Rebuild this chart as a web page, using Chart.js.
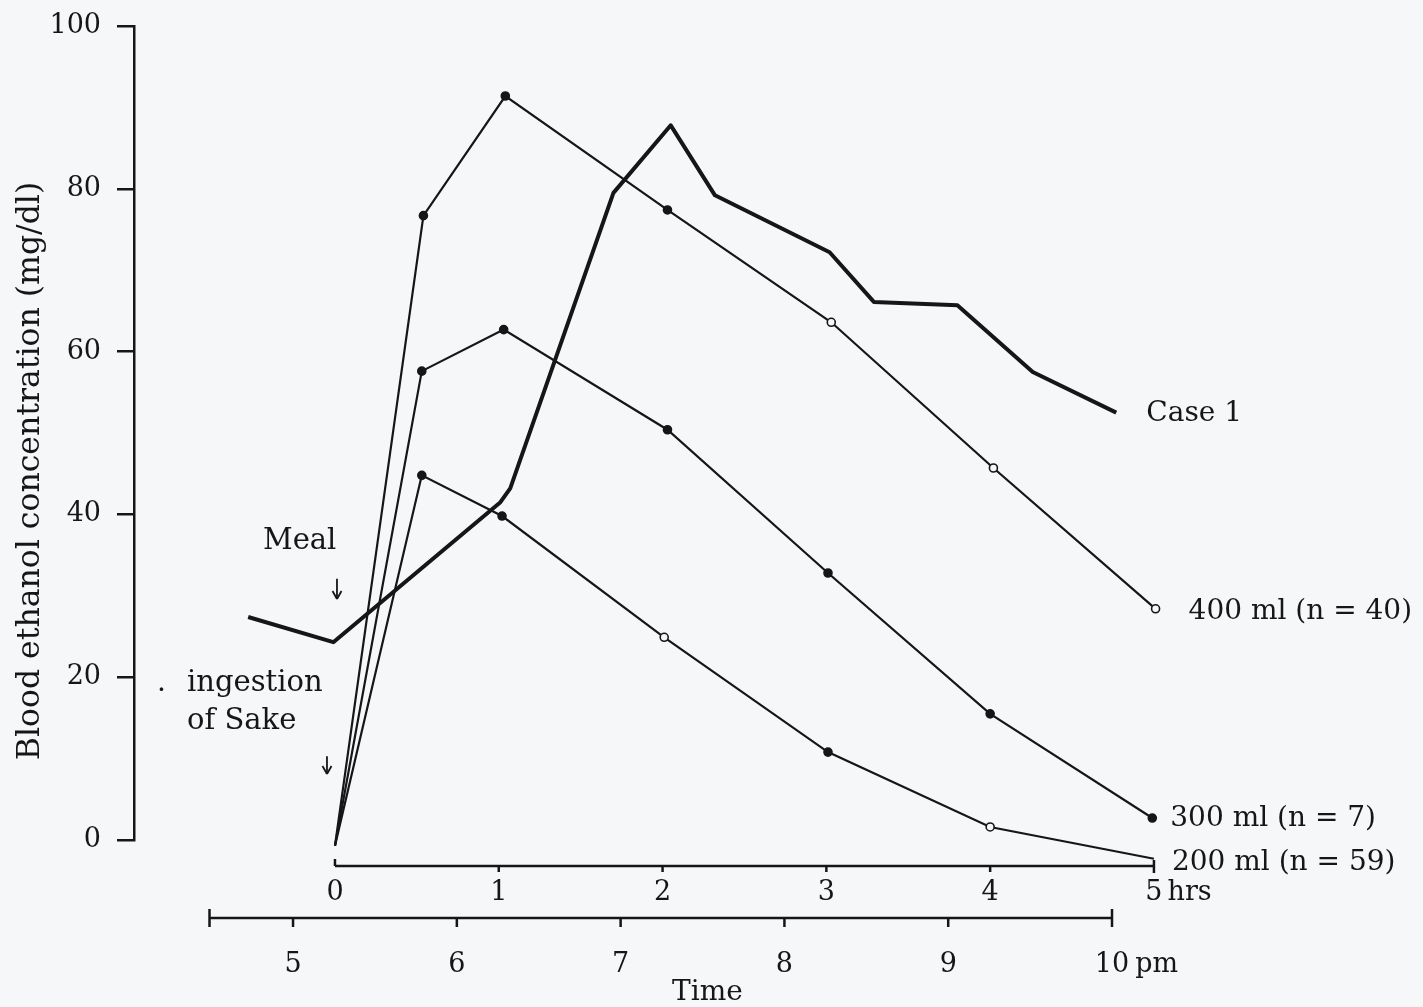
<!DOCTYPE html>
<html>
<head>
<meta charset="utf-8">
<script src="https://cdn.jsdelivr.net/npm/chart.js@4.4.1/dist/chart.umd.min.js"></script>
<style>
  html, body { margin: 0; padding: 0; background: #f5f7f9; }
  canvas { display: block; }
</style>
</head>
<body>
<canvas id="chart" width="1423" height="1007"></canvas>
<script>
// axis ticks
const Y_TICKS = [0, 20, 40, 60, 80, 100];
const HOUR_TICKS = [0, 1, 2, 3, 4, 5];
const CLOCK_TICKS = [5, 6, 7, 8, 9, 10];
const CLOCK_AXIS_FROM = 4.49; // lower axis starts a bit before 5 pm

// mean curves, x in hours after ingestion of sake, y in mg/dl
const hrs400 = [0.0, 0.54, 1.04, 2.03, 3.03, 4.02, 5.01];
const ml400 = [-0.7, 76.7, 91.4, 77.4, 63.6, 45.7, 28.4];
const hrs300 = [0.0, 0.53, 1.03, 2.03, 3.01, 4.0, 4.99];
const ml300 = [-0.7, 57.6, 62.7, 50.4, 32.8, 15.5, 2.7];
const hrs200 = [0.0, 0.53, 1.02, 2.01, 3.01, 4.0, 5.0];
const ml200 = [-0.7, 44.8, 39.8, 24.9, 10.8, 1.6, -2.3];

// Case 1, drawn as a plain thick line
const hrsCase = [-0.53, -0.01, 1.01, 1.07, 1.7, 2.05, 2.32, 3.02, 3.29, 3.8, 4.26, 4.77];
const mgCase = [27.4, 24.3, 41.5, 43.2, 79.5, 87.8, 79.2, 72.2, 66.1, 65.7, 57.5, 52.5];

const INK = "#161616";
const FONT = "'DejaVu Serif', 'Liberation Serif', serif";

// which markers are drawn open in the scan
const open400 = [4, 5, 6];
const open200 = [3, 5];

const toPoints = (xs, ys) => xs.map((x, i) => ({ x, y: ys[i] }));

function curve(label, xs, ys, openIdx) {
  return {
    label,
    data: toPoints(xs, ys),
    borderColor: INK,
    borderWidth: 2.2,
    clip: false,
    pointRadius: (c) => (c.dataIndex === 0 ? 0 : 4),
    pointBorderWidth: 1.6,
    pointBorderColor: INK,
    pointBackgroundColor: (c) => (openIdx.includes(c.dataIndex) ? "#f5f7f9" : INK),
  };
}

function text(ctx, str, x, y, size, align) {
  ctx.font = size + "px " + FONT;
  ctx.textAlign = align || "left";
  ctx.textBaseline = "alphabetic";
  ctx.fillText(str, x, y);
}

function seg(ctx, x1, y1, x2, y2) {
  ctx.beginPath();
  ctx.moveTo(x1, y1);
  ctx.lineTo(x2, y2);
  ctx.stroke();
}

// thin arrow pointing down, like the ones in the scan
function arrow(ctx, x, yTop, yTip) {
  ctx.save();
  ctx.lineWidth = 1.8;
  seg(ctx, x, yTop, x, yTip);
  seg(ctx, x - 4.5, yTip - 8, x, yTip);
  seg(ctx, x + 4.5, yTip - 8, x, yTip);
  ctx.restore();
}

const scanAxes = {
  id: "scanAxes",
  afterDraw(chart) {
    const ctx = chart.ctx;
    const hx = chart.scales.x;
    const cx = chart.scales.clock;
    const y = chart.scales.y;
    ctx.save();
    ctx.strokeStyle = INK;
    ctx.fillStyle = INK;
    ctx.lineWidth = 2.5;

    // hours-after-ingestion axis
    const hy = hx.top + 26;
    seg(ctx, hx.getPixelForValue(0), hy, hx.getPixelForValue(5), hy);
    HOUR_TICKS.forEach((v) => {
      const p = hx.getPixelForValue(v);
      if (v === 0) seg(ctx, p, hy - 7, p, hy);
      else if (v === 5) seg(ctx, p, hy - 6, p, hy + 7);
      else seg(ctx, p, hy, p, hy + 6);
    });
    const p5 = hx.getPixelForValue(5);
    ctx.font = "27px " + FONT;
    const w5 = ctx.measureText("5").width;
    text(ctx, "hrs", p5 + w5 / 2 + 5, hx.top + 60, 27);

    // clock time axis
    const cy = cx.top + 3;
    seg(ctx, cx.getPixelForValue(CLOCK_AXIS_FROM), cy, cx.getPixelForValue(10), cy);
    seg(ctx, cx.getPixelForValue(CLOCK_AXIS_FROM), cy - 9, cx.getPixelForValue(CLOCK_AXIS_FROM), cy + 9);
    seg(ctx, cx.getPixelForValue(10), cy - 9, cx.getPixelForValue(10), cy + 9);
    CLOCK_TICKS.slice(0, -1).forEach((v) => {
      const p = cx.getPixelForValue(v);
      seg(ctx, p, cy, p, cy + 9);
    });
    const p10 = cx.getPixelForValue(10);
    ctx.font = "27px " + FONT;
    const w10 = ctx.measureText("10").width;
    text(ctx, "pm", p10 + w10 / 2 + 6, cx.top + 57, 27);
    text(ctx, "Time", cx.getPixelForValue(7.53), cx.top + 85, 28, "center");

    // y title
    ctx.save();
    ctx.translate(31, 471);
    ctx.rotate(-Math.PI / 2);
    ctx.font = "31.5px " + FONT;
    ctx.textAlign = "center";
    ctx.textBaseline = "middle";
    ctx.fillText("Blood ethanol concentration (mg/dl)", 0, 0);
    ctx.restore();

    // end-of-line labels
    const lastPx = (xs, ys) => [
      hx.getPixelForValue(xs[xs.length - 1]),
      y.getPixelForValue(ys[ys.length - 1]),
    ];
    let [lx, ly] = lastPx(hrsCase, mgCase);
    text(ctx, "Case 1", lx + 30, ly + 8, 28);
    [lx, ly] = lastPx(hrs400, ml400);
    text(ctx, "400 ml (n = 40)", lx + 33, ly + 10, 28);
    [lx, ly] = lastPx(hrs300, ml300);
    text(ctx, "300 ml (n = 7)", lx + 18, ly + 8, 28);
    [lx, ly] = lastPx(hrs200, ml200);
    text(ctx, "200 ml (n = 59)", lx + 18, ly + 11, 28);

    // event notes
    const x0 = hx.getPixelForValue(0);
    text(ctx, "Meal", x0 - 72, y.getPixelForValue(35.7), 29);
    arrow(ctx, x0 + 2, y.getPixelForValue(32.1), y.getPixelForValue(29.6));
    text(ctx, ".", 157, y.getPixelForValue(18.3), 28);
    text(ctx, "ingestion", 187, y.getPixelForValue(18.3), 29);
    text(ctx, "of Sake", 187, y.getPixelForValue(13.6), 29);
    arrow(ctx, x0 - 8, y.getPixelForValue(10.3), y.getPixelForValue(8.1));
    ctx.restore();
  },
};

new Chart(document.getElementById("chart"), {
  type: "line",
  data: {
    datasets: [
      curve("400 ml (n = 40)", hrs400, ml400, open400),
      curve("300 ml (n = 7)", hrs300, ml300, []),
      curve("200 ml (n = 59)", hrs200, ml200, open200),
      {
        label: "Case 1",
        data: toPoints(hrsCase, mgCase),
        borderColor: INK,
        borderWidth: 4,
        borderJoinStyle: "round",
        pointRadius: 0,
        clip: false,
      },
    ],
  },
  options: {
    responsive: false,
    animation: false,
    layout: { padding: { left: 0, top: 26, right: 263, bottom: 0 } },
    plugins: { legend: { display: false }, tooltip: { enabled: false } },
    scales: {
      y: {
        min: 0,
        max: 100,
        position: "left",
        afterFit: (s) => {
          s.width = 134;
          s.paddingTop = 0;
          s.paddingBottom = 0;
        },
        afterBuildTicks: (s) => { s.ticks = Y_TICKS.map((value) => ({ value })); },
        border: { display: true, color: INK, width: 2.5 },
        grid: { drawOnChartArea: false, drawTicks: true, tickLength: 17, color: INK, lineWidth: 2.5 },
        ticks: { color: INK, padding: 16, font: { family: FONT, size: 27 } },
      },
      x: {
        type: "linear",
        position: "bottom",
        weight: 1,
        min: -1.227,
        max: 5.037,
        afterFit: (s) => { s.height = 75; },
        afterBuildTicks: (s) => { s.ticks = HOUR_TICKS.map((value) => ({ value })); },
        border: { display: false },
        grid: { display: false },
        ticks: { color: INK, padding: 29, font: { family: FONT, size: 27 } },
      },
      clock: {
        type: "linear",
        position: "bottom",
        weight: 2,
        min: 4.029,
        max: 10.293,
        afterFit: (s) => { s.height = 92; },
        afterBuildTicks: (s) => { s.ticks = CLOCK_TICKS.map((value) => ({ value })); },
        border: { display: false },
        grid: { display: false },
        ticks: { color: INK, padding: 26, font: { family: FONT, size: 27 } },
      },
    },
  },
  plugins: [scanAxes],
});
</script>
</body>
</html>
